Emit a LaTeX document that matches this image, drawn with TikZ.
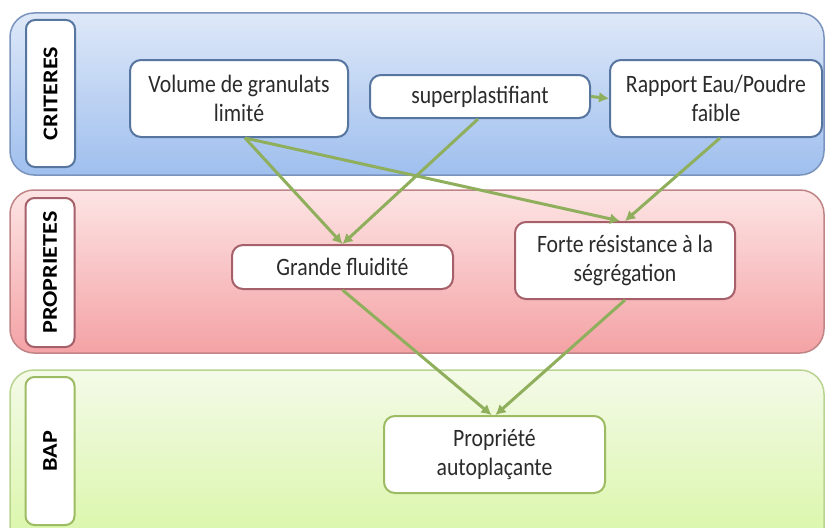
\documentclass[tikz,border=0pt]{standalone}
\usepackage{fontspec}
\setmainfont{Carlito}
\newfontfamily\nodefont[FakeStretch=0.87]{Carlito}
\newfontfamily\lanefont[FakeStretch=1.15]{Carlito}
\usetikzlibrary{arrows.meta}
\definecolor{bandBlueTop}{HTML}{DEE8F8}
\definecolor{bandBlueBot}{HTML}{9FBFEE}
\definecolor{bandBlueLine}{HTML}{7A93BD}
\definecolor{bandRedTop}{HTML}{FDE4E4}
\definecolor{bandRedBot}{HTML}{F4A2A5}
\definecolor{bandRedLine}{HTML}{C08486}
\definecolor{bandGreenTop}{HTML}{F4FAE8}
\definecolor{bandGreenBot}{HTML}{D7F6A2}
\definecolor{bandGreenLine}{HTML}{B9D490}
\definecolor{nodeBlueLine}{HTML}{56759F}
\definecolor{nodeRedLine}{HTML}{A5606A}
\definecolor{nodeGreenLine}{HTML}{9DBB62}
\definecolor{arrowGreen}{HTML}{8FAF5C}
\definecolor{txt}{HTML}{2B2B2B}
\tikzset{
  band/.style={rounded corners=24pt, line width=1.5pt},
  lanelabel/.style={draw, fill=white, rounded corners=9pt, line width=2pt,
    minimum width=49pt, minimum height=148pt, inner sep=0pt,
    font=\lanefont\fontsize{21}{24}\selectfont\bfseries, text=black},
  proc/.style={draw, fill=white, rounded corners=11pt, line width=2pt,
    align=center, inner sep=0pt, text=txt,
    font=\nodefont\fontsize{25}{29}\selectfont},
  flow/.style={draw=arrowGreen, line width=3pt,
    -{Latex[length=10pt,width=11pt]}},
}
\begin{document}
\begin{tikzpicture}[x=1pt,y=-1pt]
\useasboundingbox (0,0) rectangle (826,527);
\clip (0,0) rectangle (826,527);
% bands
\draw[band, draw=bandBlueLine, top color=bandBlueTop, bottom color=bandBlueBot]
  (10,13) rectangle (824,175);
\draw[band, draw=bandRedLine, top color=bandRedTop, bottom color=bandRedBot]
  (10,190) rectangle (824,353);
\draw[band, draw=bandGreenLine, top color=bandGreenTop, bottom color=bandGreenBot]
  (10,370) rectangle (824,560);
% lane labels
\node[lanelabel, draw=nodeBlueLine, minimum height=147pt] (lc) at (50.5,93.5) {\rotatebox{90}{CRITERES}};
\node[lanelabel, draw=nodeRedLine, minimum height=149pt] (lp) at (50,272.5) {\rotatebox{90}{PROPRIETES}};
\node[lanelabel, draw=nodeGreenLine, minimum height=148pt] (lb) at (50,451) {\rotatebox{90}{BAP}};
% nodes
\node[proc, draw=nodeBlueLine, minimum width=218pt, minimum height=77pt] (vol) at (239,98.5)
  {Volume de granulats\\limité};
\node[proc, draw=nodeBlueLine, minimum width=220pt, minimum height=43pt] (sup) at (480,96.5)
  {superplastifiant};
\node[proc, draw=nodeBlueLine, minimum width=212pt, minimum height=77pt] (rap) at (716,98.5)
  {Rapport Eau/Poudre\\faible};
\node[proc, draw=nodeRedLine, minimum width=221pt, minimum height=44pt] (flu) at (342.5,267)
  {Grande fluidité};
\node[proc, draw=nodeRedLine, minimum width=220pt, minimum height=77pt] (seg) at (625,260.5)
  {Forte résistance à la\\ségrégation};
\node[proc, draw=nodeGreenLine, minimum width=221pt, minimum height=77pt] (bap) at (494.5,454.5)
  {Propriété\\autoplaçante};
% connectors
\draw[flow] ([xshift=6pt]vol.south) -- (flu.north);
\draw[flow] ([xshift=6pt]vol.south) -- ([xshift=-5pt]seg.north);
\draw[flow] ([xshift=-2pt]sup.south) -- (flu.north);
\draw[flow] ([xshift=4pt]rap.south) -- (seg.north);
\draw[flow] (sup.east) -- (rap.west);
\draw[flow] (flu.south) -- ([xshift=-3pt]bap.north);
\draw[flow] (seg.south) -- ([xshift=1pt]bap.north);
\end{tikzpicture}
\end{document}
